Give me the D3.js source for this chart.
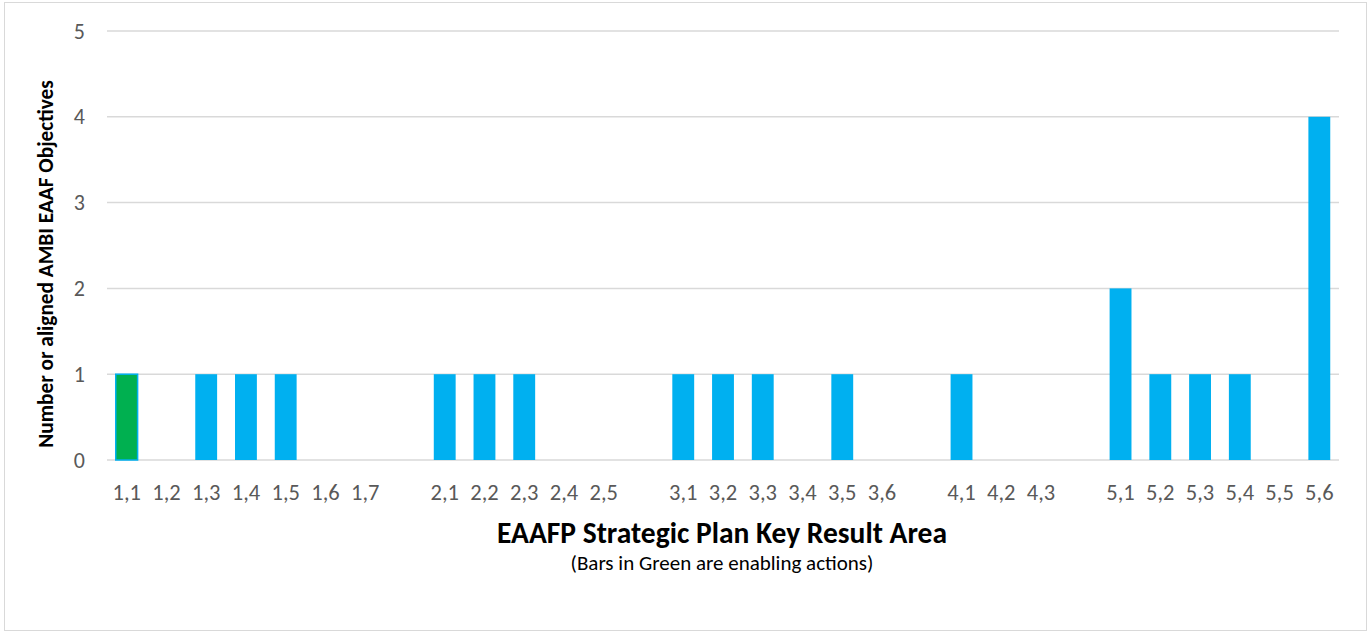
<!DOCTYPE html>
<html>
<head>
<meta charset="utf-8">
<script src="https://cdn.jsdelivr.net/npm/d3@7"></script>
<style>
  body { margin: 0; background: #fff; }
  svg { font-family: Carlito, Calibri, "Open Sans", sans-serif; }
</style>
</head>
<body>
<div id="chart"></div>
<script>
// categories (blank slots separate the groups)
const categories = ["1,1","1,2","1,3","1,4","1,5","1,6","1,7","gap1",
  "2,1","2,2","2,3","2,4","2,5","gap2",
  "3,1","3,2","3,3","3,4","3,5","3,6","gap3",
  "4,1","4,2","4,3","gap4",
  "5,1","5,2","5,3","5,4","5,5","5,6"];
const values = [1,0,1,1,1,0,0,0, 1,1,1,0,0,0, 1,1,1,0,1,0,0, 1,0,0,0, 2,1,1,1,0,4];
const enabling = ["1,1"];
const yTicks = [0,1,2,3,4,5];

const width = 1369, height = 631;
const margin = {top: 31, right: 30, bottom: 171, left: 107};

const svg = d3.select("#chart").append("svg")
  .attr("width", width)
  .attr("height", height);

// outer frame
svg.append("rect")
  .attr("x", 4.5).attr("y", 2.5)
  .attr("width", width - 7).attr("height", height - 3)
  .attr("fill", "#fff").attr("stroke", "#d9d9d9");

const x = d3.scaleBand()
  .domain(categories)
  .range([margin.left, width - margin.right])
  .paddingInner(0.45).paddingOuter(0.22);

const y = d3.scaleLinear()
  .domain([0, 5])
  .range([height - margin.bottom, margin.top]);

// gridlines
svg.append("g")
  .selectAll("line")
  .data(yTicks)
  .join("line")
  .attr("x1", margin.left).attr("x2", width - margin.right)
  .attr("y1", d => y(d)).attr("y2", d => y(d))
  .attr("stroke", "#d9d9d9").attr("stroke-width", 1.5);

// y axis labels
const yAxis = svg.append("g")
  .attr("transform", `translate(${margin.left},0)`)
  .call(d3.axisLeft(y).tickValues(yTicks).tickFormat(d3.format("d"))
    .tickSize(0).tickPadding(22));
yAxis.select(".domain").remove();
yAxis.selectAll("text")
  .style("font-size", "22px").attr("fill", "#595959")
  .style("font-family", "Carlito, Calibri, 'Open Sans', sans-serif");

// bars
const data = categories.map((c, i) => ({cat: c, value: values[i]}));
svg.append("g")
  .selectAll("rect")
  .data(data.filter(d => d.value > 0))
  .join("rect")
  .attr("x", d => x(d.cat))
  .attr("y", d => y(d.value))
  .attr("width", x.bandwidth())
  .attr("height", d => y(0) - y(d.value))
  .attr("fill", d => enabling.includes(d.cat) ? "#00b050" : "#00b0f0")
  .attr("stroke", d => enabling.includes(d.cat) ? "#00b0f0" : "none")
  .attr("stroke-width", 1.5);

// x axis labels
const xAxis = svg.append("g")
  .attr("transform", `translate(0,${y(0)})`)
  .call(d3.axisBottom(x).tickSize(0).tickPadding(24)
    .tickFormat(d => d.startsWith("gap") ? "" : d));
xAxis.select(".domain").remove();
xAxis.selectAll("text")
  .style("font-size", "22.5px").attr("fill", "#595959")
  .style("font-family", "Carlito, Calibri, 'Open Sans', sans-serif");

// titles
svg.append("text")
  .attr("x", 722).attr("y", 543)
  .attr("text-anchor", "middle")
  .style("font-size", "29.5px").style("font-weight", "bold")
  .attr("fill", "#000")
  .text("EAAFP Strategic Plan Key Result Area");

svg.append("text")
  .attr("x", 722).attr("y", 570)
  .attr("text-anchor", "middle")
  .style("font-size", "21px")
  .attr("fill", "#000")
  .text("(Bars in Green are enabling actions)");

svg.append("text")
  .attr("transform", "translate(53,264) rotate(-90)")
  .attr("text-anchor", "middle")
  .style("font-size", "21.3px").style("font-weight", "bold")
  .attr("fill", "#000")
  .text("Number or aligned AMBI EAAF Objectives");
</script>
</body>
</html>
